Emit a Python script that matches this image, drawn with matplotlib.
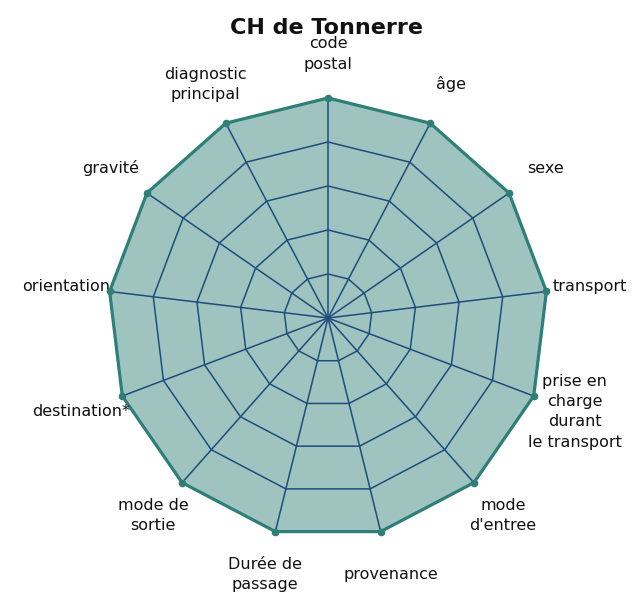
import matplotlib

matplotlib.use("Agg")
import matplotlib.pyplot as plt
import numpy as np

# axis names, clockwise from the top
categories = [
    "code\npostal",
    "âge",
    "sexe",
    "transport",
    "prise en\ncharge\ndurant\nle transport",
    "mode\nd'entree",
    "provenance",
    "Durée de\npassage",
    "mode de\nsortie",
    "destination*",
    "orientation",
    "gravité",
    "diagnostic\nprincipal",
]
values = [100, 100, 100, 100, 100, 100, 100, 100, 100, 100, 100, 100, 100]
rings = [20, 40, 60, 80, 100]
title = "CH de Tonnerre"

FILL = "#9fc3bf"
EDGE = "#2f7f79"
GRID = "#1f4d7c"

n = len(categories)
theta = np.arange(n) * 2 * np.pi / n
theta_c = np.append(theta, theta[0])

fig = plt.figure(figsize=(6.32, 5.99), dpi=100)
ax = fig.add_axes([108 / 632, 61 / 599, 440 / 632, 440 / 599], projection="polar")
ax.set_theta_zero_location("N")
ax.set_theta_direction(-1)
ax.set_ylim(0, 100)
ax.grid(False)
ax.set_xticks([])
ax.set_yticks([])
ax.spines["polar"].set_visible(False)
ax.patch.set_alpha(0)

vals_c = np.append(values, values[0])
ax.fill(theta_c, vals_c, color=FILL, zorder=1, clip_on=False)

for r in rings:
    ax.plot(theta_c, [r] * (n + 1), color=GRID, lw=1.1, zorder=2, clip_on=False)
for t in theta:
    ax.plot([t, t], [0, rings[-1]], color=GRID, lw=1.1, zorder=2, clip_on=False)

ax.plot(theta_c, vals_c, color=EDGE, lw=2.3, zorder=3, clip_on=False)
ax.scatter(theta, values, s=20, color=EDGE, zorder=4, clip_on=False)

for t, label in zip(theta, categories):
    ax.text(t, 120, label, ha="center", va="center", fontsize=11.5,
            color="#111111", linespacing=1.45)

fig.text(327 / 632, 1 - 28 / 599, title, ha="center", va="center",
         fontsize=16, fontweight="bold", color="#111111")

fig.savefig("out.png", dpi=100)
plt.close(fig)
